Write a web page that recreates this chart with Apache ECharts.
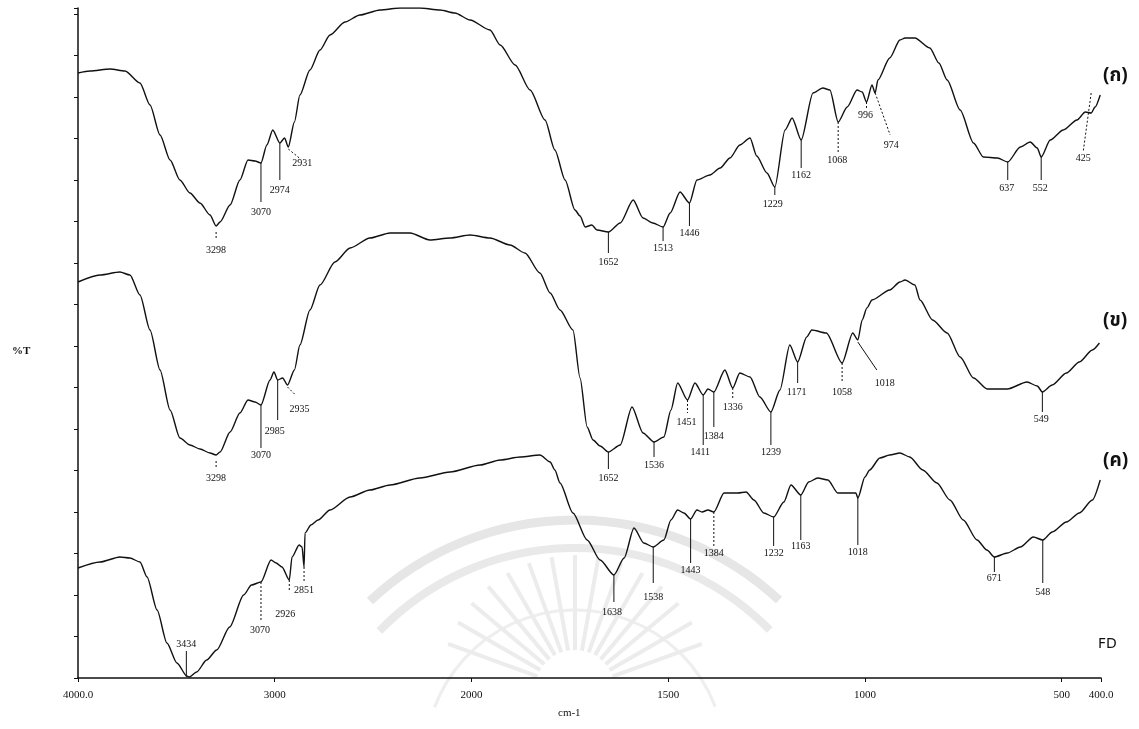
<!DOCTYPE html>
<html>
<head>
<meta charset="utf-8">
<title>FTIR</title>
<script src="https://cdn.jsdelivr.net/npm/echarts@6/dist/echarts.min.js"></script>
<style>
html, body { margin: 0; padding: 0; background: #fff; }
#chart { width: 1139px; height: 729px; }
</style>
</head>
<body>
<div id="chart"></div>
<script>
'use strict';
// wavenumber ticks on the (split) x axis
var xTicks = [4000, 3000, 2000, 1500, 1000, 500, 400];
var xTickText = ['4000.0', '3000', '2000', '1500', '1000', '500', '400.0'];

// trace (ก)
var wnA = [4000, 3939, 3837, 3761, 3685, 3634, 3583, 3532, 3482, 3431, 3380, 3329, 3298, 3278, 3227, 3177, 3136, 3100, 3070,
	3040, 3010, 2974, 2950, 2931, 2900, 2872, 2821, 2770, 2719, 2643, 2567, 2465, 2363, 2262, 2160, 2084, 2007, 1953, 1927,
	1889, 1851, 1813, 1788, 1762, 1737, 1724, 1711, 1694, 1681, 1652, 1622, 1589, 1564, 1539, 1513, 1495, 1470, 1446, 1427,
	1394, 1368, 1343, 1318, 1292, 1275, 1249, 1229, 1203, 1185, 1162, 1132, 1107, 1089, 1068, 1045, 1020, 1007, 996, 982,
	974, 967, 937, 911, 898, 873, 835, 812, 791, 758, 724, 699, 663, 637, 605, 580, 562, 552, 529, 496, 461, 440, 425, 415, 402];
var tA = [605, 607, 609, 607, 595, 573, 543, 518, 498, 485, 475, 463, 452, 456, 473, 498, 518, 517, 515,
	533, 548, 535, 540, 531, 556, 583, 608, 628, 643, 656, 663, 668, 670, 670, 668, 665, 658, 648, 633,
	613, 588, 558, 528, 498, 468, 462, 451, 453, 448, 446, 455, 478, 460, 455, 451, 465, 486, 475, 498,
	503, 510, 520, 533, 540, 522, 505, 491, 548, 560, 538, 585, 590, 588, 556, 571, 588, 586, 576, 593,
	585, 598, 620, 638, 640, 640, 630, 615, 598, 568, 535, 521, 520, 516, 531, 536, 530, 521, 538, 548, 558, 566, 565, 571, 583];
var peaksA = [3298, 3070, 2974, 2931, 1652, 1513, 1446, 1229, 1162, 1068, 996, 974, 637, 552, 425];

// trace (ข)
var wnB = [4000, 3888, 3787, 3736, 3685, 3634, 3583, 3532, 3482, 3431, 3380, 3329, 3298, 3278, 3227, 3177, 3136, 3100, 3070,
	3024, 3004, 2985, 2960, 2935, 2900, 2872, 2821, 2770, 2694, 2617, 2516, 2414, 2312, 2211, 2109, 2007, 1953, 1902, 1864,
	1826, 1800, 1775, 1742, 1724, 1706, 1691, 1673, 1652, 1622, 1592, 1564, 1536, 1511, 1493, 1476, 1451, 1432, 1411, 1399,
	1384, 1356, 1336, 1318, 1292, 1267, 1239, 1216, 1191, 1171, 1148, 1135, 1098, 1058, 1031, 1018, 1007, 995, 982, 937,
	911, 898, 873, 860, 828, 791, 758, 724, 689, 638, 588, 562, 549, 524, 488, 455, 422, 404];
var tB = [396, 403, 406, 403, 383, 348, 308, 268, 240, 233, 229, 225, 223, 226, 246, 265, 278, 276, 273,
	298, 306, 298, 300, 293, 308, 333, 368, 393, 416, 430, 440, 445, 445, 438, 440, 443, 440, 433, 425,
	405, 385, 368, 348, 300, 251, 238, 232, 226, 233, 271, 245, 236, 241, 268, 295, 278, 295, 283, 289,
	286, 308, 290, 305, 301, 281, 266, 288, 333, 316, 341, 348, 345, 315, 345, 338, 358, 370, 378, 388,
	396, 398, 393, 378, 358, 345, 321, 300, 289, 289, 296, 292, 286, 293, 305, 316, 328, 335];
var peaksB = [3298, 3070, 2985, 2935, 1652, 1536, 1451, 1411, 1384, 1336, 1239, 1171, 1058, 1018, 549];

// trace (ค)
var wnC = [4000, 3888, 3787, 3736, 3685, 3649, 3598, 3548, 3497, 3447, 3434, 3397, 3346, 3295, 3229, 3158, 3118, 3070,
	3019, 2993, 2963, 2926, 2912, 2876, 2861, 2851, 2846, 2816, 2780, 2719, 2617, 2516, 2414, 2262, 2109, 1978, 1927,
	1876, 1826, 1800, 1788, 1775, 1742, 1706, 1673, 1638, 1612, 1587, 1562, 1538, 1511, 1493, 1476, 1460, 1443, 1427, 1414,
	1399, 1384, 1358, 1323, 1302, 1282, 1257, 1232, 1206, 1188, 1163, 1143, 1120, 1094, 1069, 1043, 1023, 1018, 1000,
	988, 962, 937, 911, 886, 853, 817, 784, 750, 715, 690, 671, 638, 605, 572, 548, 524, 488, 455, 422, 402];
var tC = [110, 116, 121, 120, 116, 101, 68, 35, 15, 2, 1, 6, 18, 28, 51, 83, 93, 96,
	118, 115, 111, 98, 121, 133, 131, 111, 145, 153, 158, 168, 181, 188, 193, 200, 206, 213, 218,
	221, 223, 216, 208, 195, 165, 138, 118, 103, 120, 150, 135, 131, 138, 158, 168, 165, 159, 168, 166,
	168, 166, 185, 185, 186, 178, 165, 161, 176, 193, 183, 196, 200, 198, 185, 185, 185, 180, 201,
	208, 220, 223, 225, 221, 208, 195, 178, 158, 138, 128, 121, 125, 131, 141, 138, 146, 156, 165, 178, 198];
var peaksC = [3434, 3070, 2926, 2851, 1638, 1538, 1443, 1384, 1232, 1163, 1018, 671, 548];

// leader layout per peak label, px from the curve point: [x0, y0, x1, y1, labelX, labelY, dashed]
var leadA = [[0,6,0,13,0,24,1],[0,0,0,39,0,49,0],[0,0,0,37,0,47,0],[0,2,11,11,14,16,1],[0,0,0,21,0,30,0],
	[0,0,0,14,0,21,0],[0,0,0,23,0,30,0],[0,0,0,8,-2,17,0],[0,0,0,28,0,35,0],[0,0,0,30,-1,38,1],
	[0,0,0,6,-1,13,1],[0,0,15,42,16,52,1],[0,0,0,18,-1,26,0],[0,0,0,23,-1,31,0],[0,-20,-8,39,-8,45,1]];
var leadB = [[0,6,0,14,0,23,1],[0,0,0,43,0,50,0],[0,0,0,40,-3,51,0],[0,2,8,10,12,24,1],[0,0,0,17,0,26,0],
	[0,0,0,15,0,23,0],[0,0,0,13,-1,22,1],[0,0,0,50,-3,57,0],[0,0,0,35,0,44,0],[0,0,0,12,0,19,1],
	[0,0,0,33,0,40,0],[0,0,0,21,-1,30,0],[0,0,0,20,0,29,1],[0,2,19,30,27,43,0],[0,0,0,20,-1,27,0]];
var leadC = [[-3,0,-3,-26,-3,-33,0],[0,0,0,40,-1,48,1],[0,0,0,12,-4,34,1],[0,0,0,15,0,23,1],[0,0,0,27,-2,37,0],
	[0,0,0,36,0,50,0],[0,0,0,44,0,51,0],[0,0,0,35,0,41,1],[0,0,0,29,0,36,0],[0,0,0,45,0,51,0],
	[0,0,0,47,0,54,0],[0,0,0,15,0,21,0],[0,0,0,43,0,52,0]];

// 4000-2000 drawn at half the scale of 2000-400
function toU(w) { return w >= 2000 ? (4000 - w) / 2 : 1000 + (2000 - w); }

function pairs(wn, t) {
	return wn.map(function(w, i) { return [toU(w), t[i]]; });
}
function valueAt(wn, t, w) {
	for (var i = 0; i < wn.length - 1; i++) {
		if (w <= wn[i] && w >= wn[i + 1]) {
			var f = (wn[i] - w) / (wn[i] - wn[i + 1]);
			return t[i] + f * (t[i + 1] - t[i]);
		}
	}
	return t[t.length - 1];
}

var labelFont = '10px "Liberation Serif", "DejaVu Serif", serif';

function traceSeries(wn, t) {
	return {
		type: 'line',
		data: pairs(wn, t),
		showSymbol: false,
		smooth: 0.25,
		smoothMonotone: 'x',
		silent: true,
		lineStyle: { color: '#111', width: 1.4 },
		z: 3
	};
}
function peakSeries(wn, t, peaks, lead) {
	return {
		type: 'custom',
		silent: true,
		data: peaks.map(function(w, i) { return [toU(w), valueAt(wn, t, w), i]; }),
		renderItem: function(params, api) {
			var p = api.coord([api.value(0), api.value(1)]);
			var i = api.value(2);
			var L = lead[i];
			return {
				type: 'group',
				children: [{
					type: 'line',
					shape: { x1: p[0] + L[0], y1: p[1] + L[1], x2: p[0] + L[2], y2: p[1] + L[3] },
					style: { stroke: '#111', lineWidth: 1, lineDash: L[6] ? [2, 2] : null }
				}, {
					type: 'text',
					x: p[0] + L[4],
					y: p[1] + L[5],
					style: { text: String(peaks[i]), align: 'center', verticalAlign: 'middle', font: labelFont, fill: '#111' }
				}]
			};
		},
		z: 4
	};
}

// faint seal watermark of the scanned page (decoration only)
var seal = [
	{ type: 'arc', z: -10, silent: true, shape: { cx: 575, cy: 820, r: 300, startAngle: 3.96, endAngle: 5.46 },
		style: { stroke: '#e6e6e6', fill: null, lineWidth: 9 } },
	{ type: 'arc', z: -10, silent: true, shape: { cx: 575, cy: 820, r: 272, startAngle: 3.91, endAngle: 5.51 },
		style: { stroke: '#e9e9e9', fill: null, lineWidth: 8 } },
	{ type: 'arc', z: -10, silent: true, shape: { cx: 575, cy: 760, r: 150, startAngle: 3.5, endAngle: 5.92 },
		style: { stroke: '#eeeeee', fill: null, lineWidth: 3 } }
];
for (var a = 200; a <= 340; a += 10) {
	var rad = a * Math.PI / 180;
	seal.push({
		type: 'line', z: -10, silent: true,
		shape: { x1: 575 + 40 * Math.cos(rad), y1: 690 + 40 * Math.sin(rad), x2: 575 + 135 * Math.cos(rad), y2: 690 + 135 * Math.sin(rad) },
		style: { stroke: '#ececec', lineWidth: 4 }
	});
}

var chart = echarts.init(document.getElementById('chart'));
var tickU = xTicks.map(toU);

chart.setOption({
	animation: false,
	backgroundColor: '#fff',
	grid: { left: 78, right: 38, top: 8, bottom: 51 },
	xAxis: {
		type: 'value',
		min: 0,
		max: 2600,
		axisLine: { lineStyle: { color: '#111', width: 1.5 } },
		axisTick: { customValues: tickU, length: 4, lineStyle: { color: '#111' } },
		axisLabel: {
			customValues: tickU,
			margin: 12,
			color: '#111',
			fontFamily: '"Liberation Serif", serif',
			fontSize: 11,
			formatter: function(v) {
				var k = tickU.indexOf(v);
				return k >= 0 ? xTickText[k] : '';
			}
		},
		splitLine: { show: false }
	},
	yAxis: {
		type: 'value',
		min: 0,
		max: 670,
		interval: 41.5,
		axisLine: { show: true, lineStyle: { color: '#111', width: 1.5 } },
		axisTick: { show: true, inside: false, length: 4, lineStyle: { color: '#111' } },
		axisLabel: { show: false },
		splitLine: { show: false }
	},
	graphic: seal.concat([
		{ type: 'text', left: 12, top: 346, style: { text: '%T', font: 'bold 11px "Liberation Serif", serif', fill: '#111' } },
		{ type: 'text', left: 558, top: 708, style: { text: 'cm-1', font: '11px "Liberation Serif", serif', fill: '#111' } },
		{ type: 'text', left: 1098, top: 637, style: { text: 'FD', font: '14px "DejaVu Sans", sans-serif', fill: '#111' } },
		{ type: 'text', left: 1103, top: 68, style: { text: '(ก)', font: 'bold 19px "Noto Sans Thai", "Loma", "Garuda", "Noto Sans", sans-serif', fill: '#111' } },
		{ type: 'text', left: 1103, top: 313, style: { text: '(ข)', font: 'bold 19px "Noto Sans Thai", "Loma", "Garuda", "Noto Sans", sans-serif', fill: '#111' } },
		{ type: 'text', left: 1103, top: 453, style: { text: '(ค)', font: 'bold 19px "Noto Sans Thai", "Loma", "Garuda", "Noto Sans", sans-serif', fill: '#111' } }
	]),
	series: [
		traceSeries(wnA, tA),
		traceSeries(wnB, tB),
		traceSeries(wnC, tC),
		peakSeries(wnA, tA, peaksA, leadA),
		peakSeries(wnB, tB, peaksB, leadB),
		peakSeries(wnC, tC, peaksC, leadC)
	]
});
</script>
</body>
</html>
